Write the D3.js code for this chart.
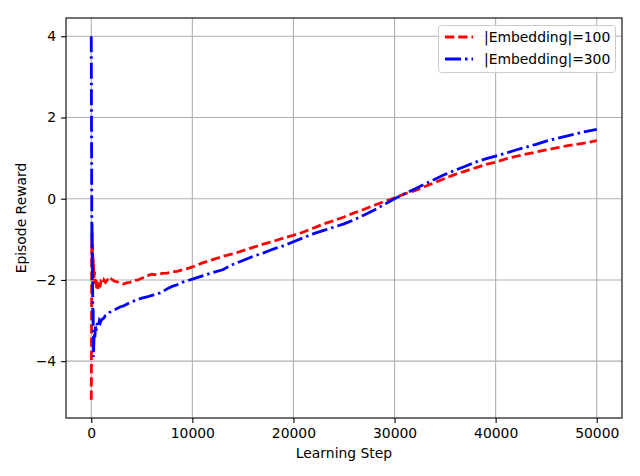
<!DOCTYPE html>
<html><head><meta charset="utf-8">
<script src="https://cdn.jsdelivr.net/npm/d3@7/dist/d3.min.js"></script>
<style>body{margin:0;background:#fff;} svg{display:block;} text{font-family:"DejaVu Sans",sans-serif;}</style>
</head><body><svg id="c" width="640" height="476"></svg>
<script>
const seriesNames = ["|Embedding|=100", "|Embedding|=300"];
const seriesColors = ["#ff0000", "#0000ff"];
const xTicks = [0, 10000, 20000, 30000, 40000, 50000];
const yTicks = [-4, -2, 0, 2, 4];
const xLabel = "Learning Step";
const yLabel = "Episode Reward";

const stepsA = [0,25,50,75,100,130,170,210,260,320,380,450,530,600,660,750,850,950,1100,1250,1400,1600,1800,2000,2300,2600,2900,3200,3500,3800,4200,4600,5000,5500,6000,6500,7000,7500,8000,8500,9000,9500,10000,11000,12000,13000,14000,15000,16000,17000,18000,19000,20000,21000,22000,23000,24000,25000,26000,27000,28000,29000,30000,31000,32000,33000,34000,35000,36000,37000,38000,39000,40000,41000,42000,43000,44000,45000,46000,47000,48000,49000,50000];
const rewardA = [-4.95,-3.2,-1.2,-0.85,-1.4,-1.1,-1.7,-1.5,-1.95,-1.8,-2.1,-1.95,-2.2,-2.05,-2.22,-2.1,-2.18,-2.05,-2.1,-2.0,-2.06,-2.0,-2.05,-1.98,-2.03,-2.05,-2.08,-2.1,-2.07,-2.06,-2.02,-2.0,-1.96,-1.9,-1.86,-1.88,-1.84,-1.83,-1.8,-1.79,-1.75,-1.72,-1.68,-1.58,-1.5,-1.42,-1.36,-1.28,-1.2,-1.12,-1.05,-0.97,-0.9,-0.82,-0.72,-0.62,-0.54,-0.45,-0.35,-0.26,-0.16,-0.07,0.02,0.12,0.2,0.3,0.4,0.5,0.6,0.68,0.76,0.84,0.9,0.98,1.04,1.1,1.15,1.2,1.25,1.3,1.34,1.38,1.43];

const stepsB = [0,20,40,60,80,100,130,160,190,220,260,300,350,420,500,600,700,800,900,1000,1200,1400,1600,1800,2000,2300,2600,2900,3200,3500,3800,4200,4600,5000,5500,6000,6500,7000,7500,8000,8500,9000,9500,10000,11000,12000,13000,14000,15000,16000,17000,18000,19000,20000,21000,22000,23000,24000,25000,26000,27000,28000,29000,30000,31000,32000,33000,34000,35000,36000,37000,38000,39000,40000,41000,42000,43000,44000,45000,46000,47000,48000,49000,50000];
const rewardB = [4.0,2.0,0.5,-1.2,-0.6,-2.0,-1.7,-3.0,-2.7,-3.9,-3.5,-3.3,-3.45,-3.15,-3.25,-3.05,-3.12,-3.0,-3.05,-2.98,-2.95,-2.88,-2.85,-2.8,-2.78,-2.74,-2.7,-2.66,-2.64,-2.6,-2.56,-2.52,-2.48,-2.45,-2.42,-2.38,-2.35,-2.3,-2.22,-2.16,-2.12,-2.06,-2.02,-1.98,-1.9,-1.82,-1.75,-1.62,-1.52,-1.42,-1.34,-1.24,-1.16,-1.06,-0.96,-0.86,-0.78,-0.7,-0.62,-0.52,-0.4,-0.28,-0.14,0.0,0.12,0.24,0.36,0.48,0.6,0.7,0.8,0.9,0.98,1.05,1.12,1.2,1.27,1.34,1.42,1.48,1.54,1.6,1.66,1.71];

const L = 66, T = 18, W = 556, H = 400;
const svg = d3.select("#c");
const x = d3.scaleLinear().domain([-2500, 52500]).range([L, L + W]);
const y = d3.scaleLinear().domain([-5.4, 4.45]).range([T + H, T]);

// grid
const g = svg.append("g");
g.selectAll(".gx").data(xTicks).enter().append("line")
  .attr("x1", d => x(d)).attr("x2", d => x(d)).attr("y1", T).attr("y2", T + H)
  .attr("stroke", "#b0b0b0").attr("stroke-width", 1.1);
g.selectAll(".gy").data(yTicks).enter().append("line")
  .attr("y1", d => y(d)).attr("y2", d => y(d)).attr("x1", L).attr("x2", L + W)
  .attr("stroke", "#b0b0b0").attr("stroke-width", 1.1);

// lines
const clip = svg.append("clipPath").attr("id", "cp").append("rect").attr("x", L).attr("y", T).attr("width", W).attr("height", H);
const line = d3.line().x(d => x(d[0])).y(d => y(d[1]));
const dataA = stepsA.map((s, i) => [s, rewardA[i]]);
const dataB = stepsB.map((s, i) => [s, rewardB[i]]);
const dashes = ["9.25,4", "16,4,2.5,4"];
svg.append("path").datum(dataA).attr("d", line).attr("fill", "none")
  .attr("stroke", seriesColors[0]).attr("stroke-width", 2.8).attr("stroke-dasharray", dashes[0]).attr("clip-path", "url(#cp)");
svg.append("path").datum(dataB).attr("d", line).attr("fill", "none")
  .attr("stroke", seriesColors[1]).attr("stroke-width", 2.8).attr("stroke-dasharray", dashes[1]).attr("clip-path", "url(#cp)");

// axes
const fs = "13.9px";
const xa = svg.append("g").attr("transform", `translate(0,${T + H})`)
  .call(d3.axisBottom(x).tickValues(xTicks).tickFormat(d => String(d)).tickSize(4.9).tickPadding(4.9));
const ya = svg.append("g").attr("transform", `translate(${L},0)`)
  .call(d3.axisLeft(y).tickValues(yTicks).tickFormat(d => d < 0 ? "\u2212" + Math.abs(d) : String(d)).tickSize(4.9).tickPadding(4.9));
[xa, ya].forEach(a => {
  a.select(".domain").remove();
  a.selectAll("line").attr("stroke", "#000").attr("stroke-width", 1.1);
  a.selectAll("text").attr("font-family", "DejaVu Sans").attr("font-size", fs).attr("fill", "#000");
});
svg.append("rect").attr("x", L).attr("y", T).attr("width", W).attr("height", H)
  .attr("fill", "none").attr("stroke", "#000").attr("stroke-width", 1.1);

svg.append("text").attr("x", L + W / 2).attr("y", 458).attr("text-anchor", "middle")
  .attr("font-size", fs).text(xLabel);
svg.append("text").attr("transform", `translate(26,${T + H / 2}) rotate(-90)`).attr("text-anchor", "middle")
  .attr("font-size", fs).text(yLabel);

// legend
const lg = svg.append("g");
lg.append("rect").attr("x", 438.5).attr("y", 25.5).attr("width", 177).attr("height", 47).attr("rx", 3)
  .attr("fill", "#fff").attr("fill-opacity", 0.8).attr("stroke", "#cccccc").attr("stroke-width", 1);
seriesNames.forEach((n, i) => {
  const yy = 37 + i * 22;
  lg.append("line").attr("x1", 445).attr("x2", 473).attr("y1", yy).attr("y2", yy)
    .attr("stroke", seriesColors[i]).attr("stroke-width", 2.8).attr("stroke-dasharray", dashes[i]);
  lg.append("text").attr("x", 484).attr("y", yy + 5).attr("font-size", fs).text(n);
});
</script></body></html>
